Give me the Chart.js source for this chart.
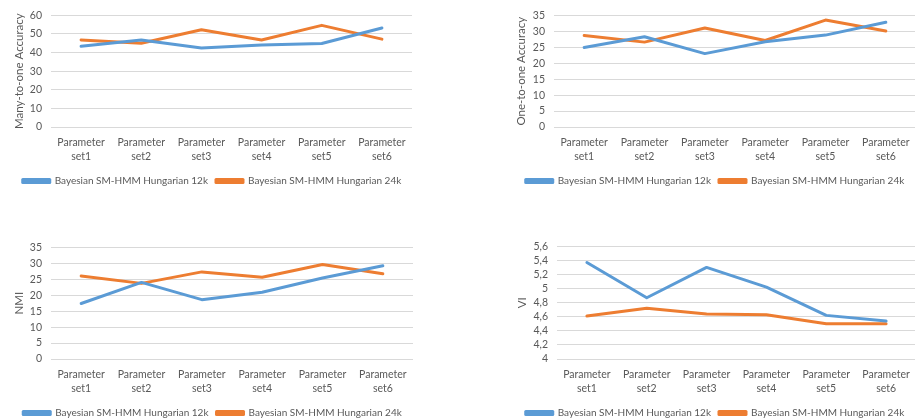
<!DOCTYPE html>
<html>
<head>
<meta charset="utf-8">
<script src="https://cdn.jsdelivr.net/npm/chart.js@4"></script>
<style>
  html, body { margin: 0; padding: 0; background: #fff; overflow: hidden; }
  body { width: 915px; height: 419px; position: relative; }
  .box { position: absolute; }
</style>
</head>
<body>
<div class="box" style="left:0px;top:0px;width:424px;height:196px"><canvas id="m2oChart"></canvas></div>
<div class="box" style="left:510px;top:0px;width:410px;height:196px"><canvas id="o2oChart"></canvas></div>
<div class="box" style="left:0px;top:232px;width:424px;height:196px"><canvas id="nmiChart"></canvas></div>
<div class="box" style="left:510px;top:231px;width:410px;height:197px"><canvas id="viChart"></canvas></div>
<script>
// categories on the x axis
const categories = [
    ['Parameter', 'set1'], ['Parameter', 'set2'], ['Parameter', 'set3'],
    ['Parameter', 'set4'], ['Parameter', 'set5'], ['Parameter', 'set6']
];
const seriesNames = ['Bayesian SM-HMM Hungarian 12k', 'Bayesian SM-HMM Hungarian 24k'];

// values
const m2o12k = [43.4, 46.8, 42.5, 44.1, 44.9, 53.2];
const m2o24k = [46.8, 45.0, 52.2, 46.7, 54.6, 47.2];
const o2o12k = [24.9, 28.3, 23.0, 26.7, 28.8, 32.8];
const o2o24k = [28.7, 26.6, 31.0, 27.1, 33.5, 30.1];
const nmi12k = [17.4, 24.0, 18.6, 20.9, 25.4, 29.2];
const nmi24k = [26.0, 23.7, 27.3, 25.6, 29.6, 26.7];
const vi12k = [5.37, 4.87, 5.30, 5.02, 4.62, 4.54];
const vi24k = [4.61, 4.72, 4.64, 4.63, 4.50, 4.50];

Chart.defaults.font.family = 'Lato, "Liberation Sans", sans-serif';
Chart.defaults.font.size = 10;
Chart.defaults.color = '#595959';

// default legend items, with a little extra room after the first one
function legendLabels(chart) {
    const items = Chart.defaults.plugins.legend.labels.generateLabels(chart);
    items[0].text = items[0].text + '\u2002';
    return items;
}

function createLineChart(chartId, yTitle, data12, data24, yMin, yMax, yStep, axisWidth, titlePad, padLeft, padRight, commaTicks) {
    const ctx = document.getElementById(chartId).getContext('2d');
    new Chart(ctx, {
        type: 'line',
        data: {
            labels: categories,
            datasets: [{
                label: seriesNames[0],
                data: data12,
                borderColor: '#5B9BD5',
                backgroundColor: '#5B9BD5',
                borderWidth: 3,
                pointRadius: 0,
                borderCapStyle: 'round',
                borderJoinStyle: 'round'
            }, {
                label: seriesNames[1],
                data: data24,
                borderColor: '#ED7D31',
                backgroundColor: '#ED7D31',
                borderWidth: 3,
                pointRadius: 0,
                borderCapStyle: 'round',
                borderJoinStyle: 'round'
            }]
        },
        options: {
            responsive: true,
            maintainAspectRatio: false,
            animation: false,
            layout: { padding: { top: 15, right: padRight, left: padLeft, bottom: 0 } },
            scales: {
                x: {
                    offset: true,
                    grid: { display: false, drawTicks: false },
                    border: { display: false },
                    ticks: {
                        autoSkip: false, maxRotation: 0, minRotation: 0, padding: 9,
                        font: { size: 10.5, lineHeight: 1.33 }
                    }
                },
                y: {
                    min: yMin,
                    max: yMax,
                    afterFit: scale => { scale.width = axisWidth; },
                    grid: { color: '#D9D9D9', drawTicks: false },
                    border: { display: false },
                    ticks: {
                        autoSkip: false,
                        stepSize: yStep,
                        padding: 9,
                        font: { size: 10.5 },
                        callback: v => commaTicks ? String(Number(v.toFixed(1))).replace('.', ',') : v
                    },
                    title: { display: true, text: yTitle, font: { size: 11.5 }, padding: { top: titlePad, bottom: 0 } }
                }
            },
            plugins: {
                legend: {
                    display: true,
                    position: 'bottom',
                    labels: { boxWidth: 27, boxHeight: 3, padding: 3, font: { size: 10 }, generateLabels: legendLabels }
                },
                tooltip: { enabled: false }
            }
        }
    });
}

createLineChart('m2oChart', 'Many-to-one Accuracy', m2o12k, m2o24k, 0, 60, 10, 39, 0, 12, 12, false);
createLineChart('o2oChart', 'One-to-one Accuracy', o2o12k, o2o24k, 0, 35, 5, 40, 0, 4, 4, false);
createLineChart('nmiChart', 'NMI', nmi12k, nmi24k, 0, 35, 5, 39, 0, 12, 11, false);
createLineChart('viChart', 'VI', vi12k, vi24k, 4, 5.6, 0.2, 43, 1, 4, 4, true);
</script>
</body>
</html>
